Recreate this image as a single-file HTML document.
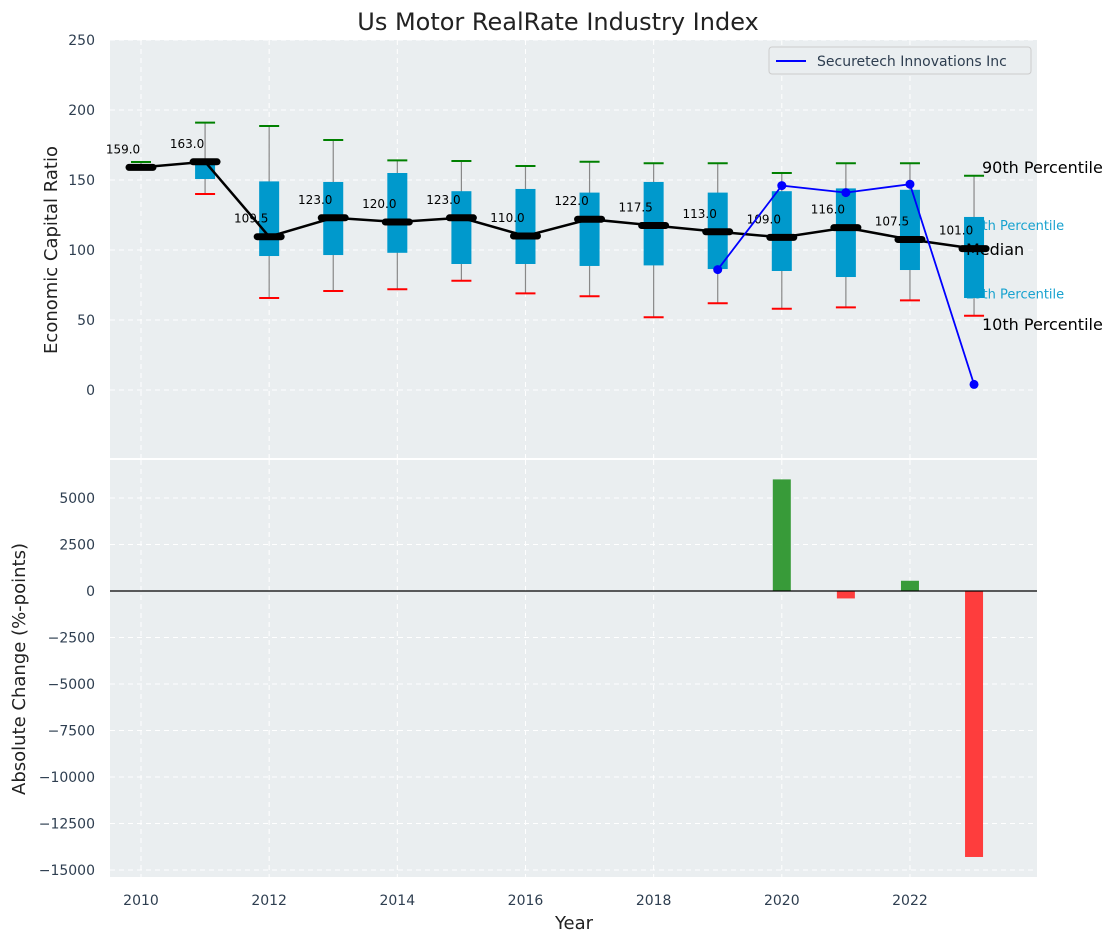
<!DOCTYPE html>
<html><head><meta charset="utf-8"><style>
body{margin:0;background:#fff;font-family:"Liberation Sans","DejaVu Sans",sans-serif}
svg text{font-family:"DejaVu Sans","Liberation Sans",sans-serif}
</style></head><body>
<svg id="c" width="1117" height="942" xmlns="http://www.w3.org/2000/svg"></svg>
<script>
const years=[2010,2011,2012,2013,2014,2015,2016,2017,2018,2019,2020,2021,2022,2023];
const medians=[159,163,109.5,123,120,123,110,122,117.5,113,109,116,107.5,101];
const q1=[159,150.7,95.7,96.4,98,90,90,88.6,89,86.4,85,80.7,85.7,65.7];
const q3=[159,163,149,148.6,155,142,143.6,141,148.6,141,142,144,143,123.6];
const whiskHi=[162.9,191,188.6,178.6,164,163.6,160,163,162,162,155,162,162,153];
const whiskLo=[159,140,65.7,70.7,72,78,69,67,52,62,58,59,64,53];
const compYears=[2019,2020,2021,2022,2023];
const compValues=[86,146,141,147,4];
const barYears=[2020,2021,2022,2023];
const barValues=[6000,-400,550,-14300];
const topTicks=[0,50,100,150,200,250];
const botTicks=[5000,2500,0,-2500,-5000,-7500,-10000,-12500,-15000];
const xTicks=[2010,2012,2014,2016,2018,2020,2022];

const svg=document.getElementById('c');const NS='http://www.w3.org/2000/svg';
function mk(t,a,txt,name,par){const e=document.createElementNS(NS,t);for(const k in a)e.setAttribute(k,a[k]);if(txt!==undefined&&txt!==null)e.textContent=txt;


(par||svg).appendChild(e);return e;}
const L=110,R=1037,T1=40,B1=458,T2=460,B2=877;
const x=v=>141+(v-2010)*64.08;
const y1=v=>390-v*1.4;
const y2=v=>591-v*0.0186;
mk('rect',{x:L,y:T1,width:R-L,height:B1-T1,fill:'#eaeef0'},null,'top-plot-area');
mk('rect',{x:L,y:T2,width:R-L,height:B2-T2,fill:'#eaeef0'},null,'bottom-plot-area');
xTicks.forEach(t=>{mk('line',{x1:x(t),x2:x(t),y1:T1,y2:B1,stroke:'#fff','stroke-dasharray':'5,4','stroke-width':1},null,'top-x-grid');
mk('line',{x1:x(t),x2:x(t),y1:T2,y2:B2,stroke:'#fff','stroke-dasharray':'5,4','stroke-width':1},null,'bottom-x-grid');
mk('text',{x:x(t),y:905,'text-anchor':'middle','font-size':14,fill:'#2e3e50'},t,'x-tick-label');});
topTicks.forEach(t=>{mk('line',{x1:L,x2:R,y1:y1(t),y2:y1(t),stroke:'#fff','stroke-dasharray':'5,4'},null,'top-y-grid');
mk('text',{x:95,y:y1(t)+5,'text-anchor':'end','font-size':14,fill:'#2e3e50'},t,'top-y-tick-label');});
botTicks.forEach(t=>{mk('line',{x1:L,x2:R,y1:y2(t),y2:y2(t),stroke:'#fff','stroke-dasharray':'5,4'},null,'bottom-y-grid');
mk('text',{x:95,y:y2(t)+5,'text-anchor':'end','font-size':14,fill:'#2e3e50'},t<0?'\u2212'+(-t):t,'bottom-y-tick-label');});
mk('text',{x:966,y:y1(118)+5,'font-size':13,fill:'#17a2cf'},'75th Percentile','q3-annotation');
mk('text',{x:966,y:y1(69)+5,'font-size':13,fill:'#17a2cf'},'25th Percentile','q1-annotation');
years.forEach((yr,i)=>{const cx=x(yr);
mk('line',{x1:cx,x2:cx,y1:y1(whiskHi[i]),y2:y1(whiskLo[i]),stroke:'#888','stroke-width':1.2},null,'whisker-'+yr);
mk('rect',{x:cx-10,y:y1(q3[i]),width:20,height:Math.max(0,y1(q1[i])-y1(q3[i])),fill:'#0099cc'},null,'box-'+yr);
mk('line',{x1:cx-10,x2:cx+10,y1:y1(whiskHi[i]),y2:y1(whiskHi[i]),stroke:'green','stroke-width':2},null,'cap-high-'+yr);
if(whiskLo[i]<q1[i]-1)mk('line',{x1:cx-10,x2:cx+10,y1:y1(whiskLo[i]),y2:y1(whiskLo[i]),stroke:'red','stroke-width':2},null,'cap-low-'+yr);
});
mk('polyline',{points:years.map((yr,i)=>x(yr)+','+y1(medians[i])).join(' '),fill:'none',stroke:'#000','stroke-width':2.5},null,'median-line');
years.forEach((yr,i)=>{mk('line',{x1:x(yr)-12,x2:x(yr)+12,y1:y1(medians[i]),y2:y1(medians[i]),stroke:'#000','stroke-width':7,'stroke-linecap':'round'},null,'median-marker-'+yr);
mk('text',{x:x(yr)-18,y:y1(medians[i])-14,'text-anchor':'middle','font-size':12,fill:'#000'},medians[i].toFixed(1),'median-label-'+yr);});
mk('polyline',{points:compYears.map((yr,i)=>x(yr)+','+y1(compValues[i])).join(' '),fill:'none',stroke:'#0000ff','stroke-width':1.8},null,'securetech-line');
compYears.forEach((yr,i)=>mk('circle',{cx:x(yr),cy:y1(compValues[i]),r:4.5,fill:'#0000ff'},null,'securetech-point-'+yr));
mk('text',{x:982,y:173,'font-size':16,fill:'#000'},'90th Percentile','p90-annotation');
mk('text',{x:966,y:255,'font-size':16,fill:'#000'},'Median','median-annotation');
mk('text',{x:982,y:330,'font-size':16,fill:'#000'},'10th Percentile','p10-annotation');
const lg=mk('g',{},null,'legend');
mk('rect',{x:769,y:47,width:262,height:27,rx:3,fill:'#eaeef0',stroke:'#ccc'},null,'legend-box',lg);
mk('line',{x1:776,x2:806,y1:61,y2:61,stroke:'#0000ff','stroke-width':2},null,'legend-swatch',lg);
mk('text',{x:817,y:66,'font-size':14,fill:'#2e3e50'},'Securetech Innovations Inc','legend-label',lg);
barYears.forEach((yr,i)=>{const v=barValues[i];mk('rect',{x:x(yr)-9,y:Math.min(y2(v),y2(0)),width:18,height:Math.abs(y2(v)-y2(0)),fill:v>=0?'#2e962e':'#ff3333','fill-opacity':0.95},null,'change-bar-'+yr);});
mk('line',{x1:L,x2:R,y1:y2(0),y2:y2(0),stroke:'#000','stroke-width':1.2},null,'zero-line');
mk('text',{x:558,y:30,'text-anchor':'middle','font-size':24,fill:'#222'},'Us Motor RealRate Industry Index','chart-title');
mk('text',{x:574,y:929,'text-anchor':'middle','font-size':18,fill:'#222'},'Year','x-axis-title');
mk('text',{x:0,y:0,'text-anchor':'middle','font-size':18,fill:'#222',transform:'translate(57,250) rotate(-90)'},'Economic Capital Ratio','top-y-axis-title');
mk('text',{x:0,y:0,'text-anchor':'middle','font-size':18,fill:'#222',transform:'translate(25,669) rotate(-90)'},'Absolute Change (%-points)','bottom-y-axis-title');
</script>
</body></html>
